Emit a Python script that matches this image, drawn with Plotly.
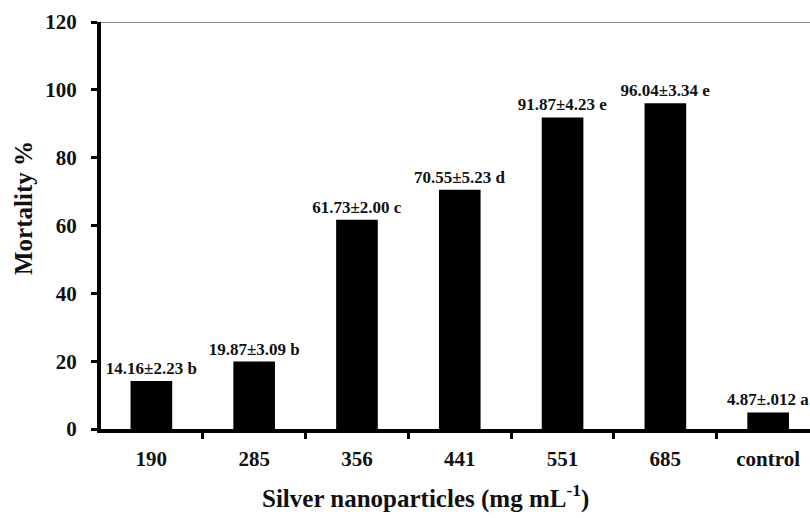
import plotly.graph_objects as go

categories = ["190", "285", "356", "441", "551", "685", "control"]
mortality = [14.16, 19.87, 61.73, 70.55, 91.87, 96.04, 4.87]
labels = ["14.16±2.23 b", "19.87±3.09 b", "61.73±2.00 c", "70.55±5.23 d",
          "91.87±4.23 e", "96.04±3.34 e", "4.87±.012 a"]
y_ticks = [0, 20, 40, 60, 80, 100, 120]

FONT = "Liberation Serif, Times New Roman, serif"

fig = go.Figure()
fig.add_trace(go.Bar(
    x=categories, y=mortality, text=labels,
    textposition="outside", cliponaxis=False,
    marker=dict(color="black", line=dict(width=0)),
    width=0.405,
    textfont=dict(family=FONT, size=17, color="#111", weight="bold"),
    constraintext="none",
))

fig.update_layout(
    width=810, height=518,
    margin=dict(l=101, r=0, t=22, b=89),
    plot_bgcolor="white", paper_bgcolor="white",
    showlegend=False,
    font=dict(family=FONT, color="#111"),
    xaxis=dict(
        type="category", range=[-0.49, 6.407], automargin=False,
        showline=True, linewidth=4, linecolor="black",
        ticks="outside", tickson="boundaries", ticklen=6, tickwidth=3, tickcolor="black",
        tickfont=dict(family=FONT, size=21, color="#111", weight="bold"),
        ticklabelstandoff=8,
        showgrid=False, zeroline=False,
    ),
    yaxis=dict(
        range=[0, 120], tickvals=y_ticks, automargin=False,
        showline=True, linewidth=4, linecolor="black",
        ticks="outside", ticklen=6, tickwidth=3, tickcolor="black",
        tickfont=dict(family=FONT, size=21, color="#111", weight="bold"),
        ticklabelstandoff=10,
        showgrid=False, zeroline=False,
    ),
    shapes=[dict(type="line", xref="paper", yref="y", x0=0, x1=1, y0=120, y1=120,
                 line=dict(color="#666", width=1.5))],
    annotations=[
        dict(text="Mortality %", xref="paper", yref="paper", x=-0.1086, y=0.543,
             textangle=-90, showarrow=False, xanchor="center", yanchor="middle",
             font=dict(family=FONT, size=25, color="#111", weight="bold")),
        dict(text="Silver nanoparticles (mg mL<sup>-1</sup>)", xref="paper", yref="paper",
             x=0.457, y=-0.167, showarrow=False, xanchor="center", yanchor="middle",
             font=dict(family=FONT, size=25, color="#111", weight="bold")),
    ],
)

fig.write_html("out.html",
               config={"displayModeBar": False},
               post_script="document.body.style.margin='0px';document.body.style.overflow='hidden';")
